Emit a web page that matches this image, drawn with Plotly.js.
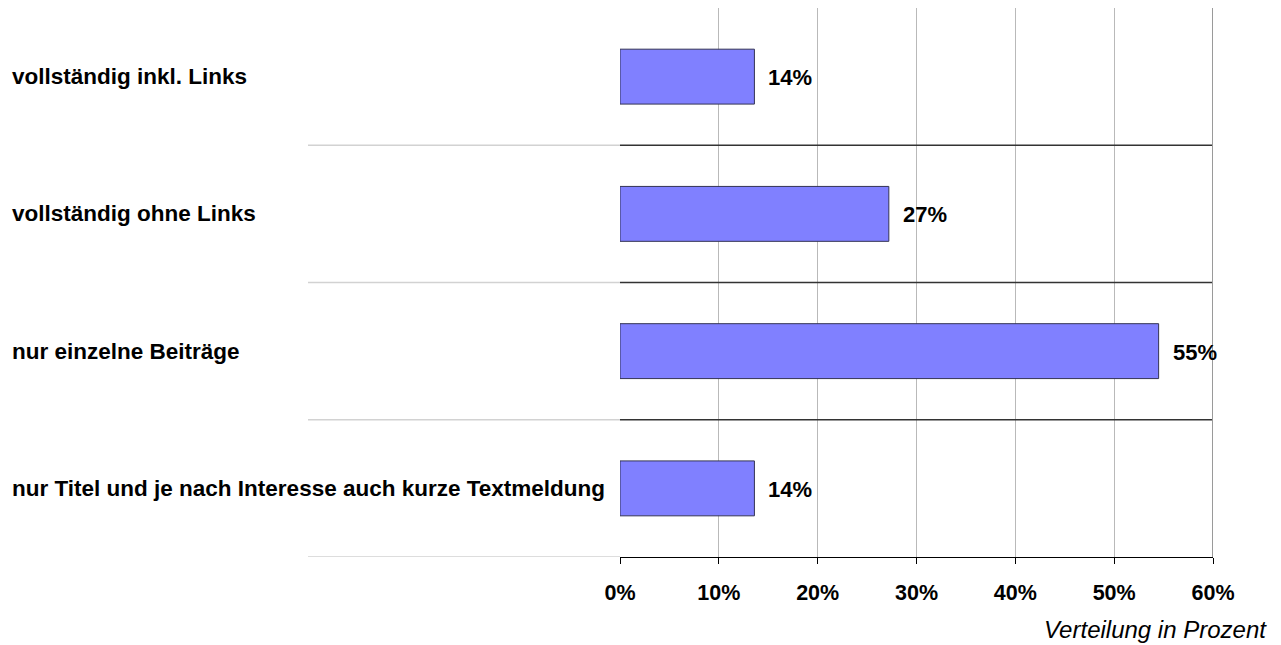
<!DOCTYPE html>
<html>
<head>
<meta charset="utf-8">
<script src="https://cdn.plot.ly/plotly-3.0.1.min.js"></script>
<style>html,body{margin:0;padding:0;background:#fff;}#chart{width:1281px;height:645px;}</style>
</head>
<body>
<div id="chart"></div>
<script>
var categories = ["vollständig inkl. Links", "vollständig ohne Links", "nur einzelne Beiträge", "nur Titel und je nach Interesse auch kurze Textmeldung"];
var values = [13.6, 27.2, 54.5, 13.6];
var valueLabels = ["14%", "27%", "55%", "14%"];
var tickValues = [0, 10, 20, 30, 40, 50, 60];
var tickLabels = ["0%", "10%", "20%", "30%", "40%", "50%", "60%"];
var axisTitle = "Verteilung in Prozent";

var FONT = "Arial, 'Liberation Sans', sans-serif";
var plotW = 1213 - 620, plotH = 557 - 8;
var leftX = (308 - 620) / plotW;

var shapes = [];
for (var i = 0; i < categories.length; i++) {
  var yb = i + 0.5;
  shapes.push({type: 'line', xref: 'paper', yref: 'y', x0: leftX, x1: 0, y0: yb, y1: yb, line: {color: '#d2d2d2', width: 1.5}});
  if (i < categories.length - 1) {
    shapes.push({type: 'line', xref: 'paper', yref: 'y', x0: 0, x1: 1, y0: yb, y1: yb, line: {color: '#333333', width: 1.3}});
  }
}
shapes.push({type: 'line', xref: 'x', yref: 'paper', x0: 60, x1: 60, y0: 0, y1: 1, line: {color: '#9a9a9a', width: 2}});

var annotations = categories.map(function (c, i) {
  return {xref: 'paper', yref: 'y', x: (10 - 620) / plotW, y: i, xanchor: 'left', yanchor: 'middle',
    text: '<b>' + c + '</b>', showarrow: false, font: {family: FONT, size: 22.5, color: '#000'}};
});
valueLabels.forEach(function (t, i) {
  annotations.push({xref: 'x', yref: 'y', x: values[i], y: i, xanchor: 'left', yanchor: 'middle', xshift: 12, yshift: -1,
    text: '<b>' + t + '</b>', showarrow: false, font: {family: FONT, size: 22, color: '#000'}});
});
annotations.push({xref: 'paper', yref: 'paper', x: (1269 - 620) / plotW, y: (557 - 629) / plotH,
  xanchor: 'right', yanchor: 'middle', text: '<i>' + axisTitle + '</i>', showarrow: false,
  font: {family: FONT, size: 24, color: '#000'}});

var trace = {
  type: 'bar', orientation: 'h',
  x: values, y: categories.map(function (c, i) { return i; }),
  marker: {color: '#8080ff', line: {color: '#333355', width: 1}},
  width: 0.4, hoverinfo: 'none'
};

var layout = {
  width: 1281, height: 645,
  margin: {l: 620, r: 68, t: 8, b: 88},
  paper_bgcolor: '#fff', plot_bgcolor: '#fff',
  showlegend: false,
  xaxis: {
    range: [0, 60], tickvals: tickValues, ticktext: tickLabels.map(function (t) { return '<b>' + t + '</b>'; }),
    showgrid: true, gridcolor: '#b9b9b9', gridwidth: 1,
    showline: true, linecolor: '#000', linewidth: 1.3,
    ticks: 'outside', ticklen: 6, tickcolor: '#000', tickwidth: 1,
    ticklabelstandoff: 10,
    tickfont: {family: FONT, size: 21.5, color: '#000'}, zeroline: false, fixedrange: true
  },
  yaxis: {
    range: [3.5, -0.5], showticklabels: false, showgrid: false, zeroline: false,
    showline: false, ticks: '', fixedrange: true
  },
  shapes: shapes,
  annotations: annotations
};

Plotly.newPlot('chart', [trace], layout, {staticPlot: true, displayModeBar: false});
</script>
</body>
</html>
